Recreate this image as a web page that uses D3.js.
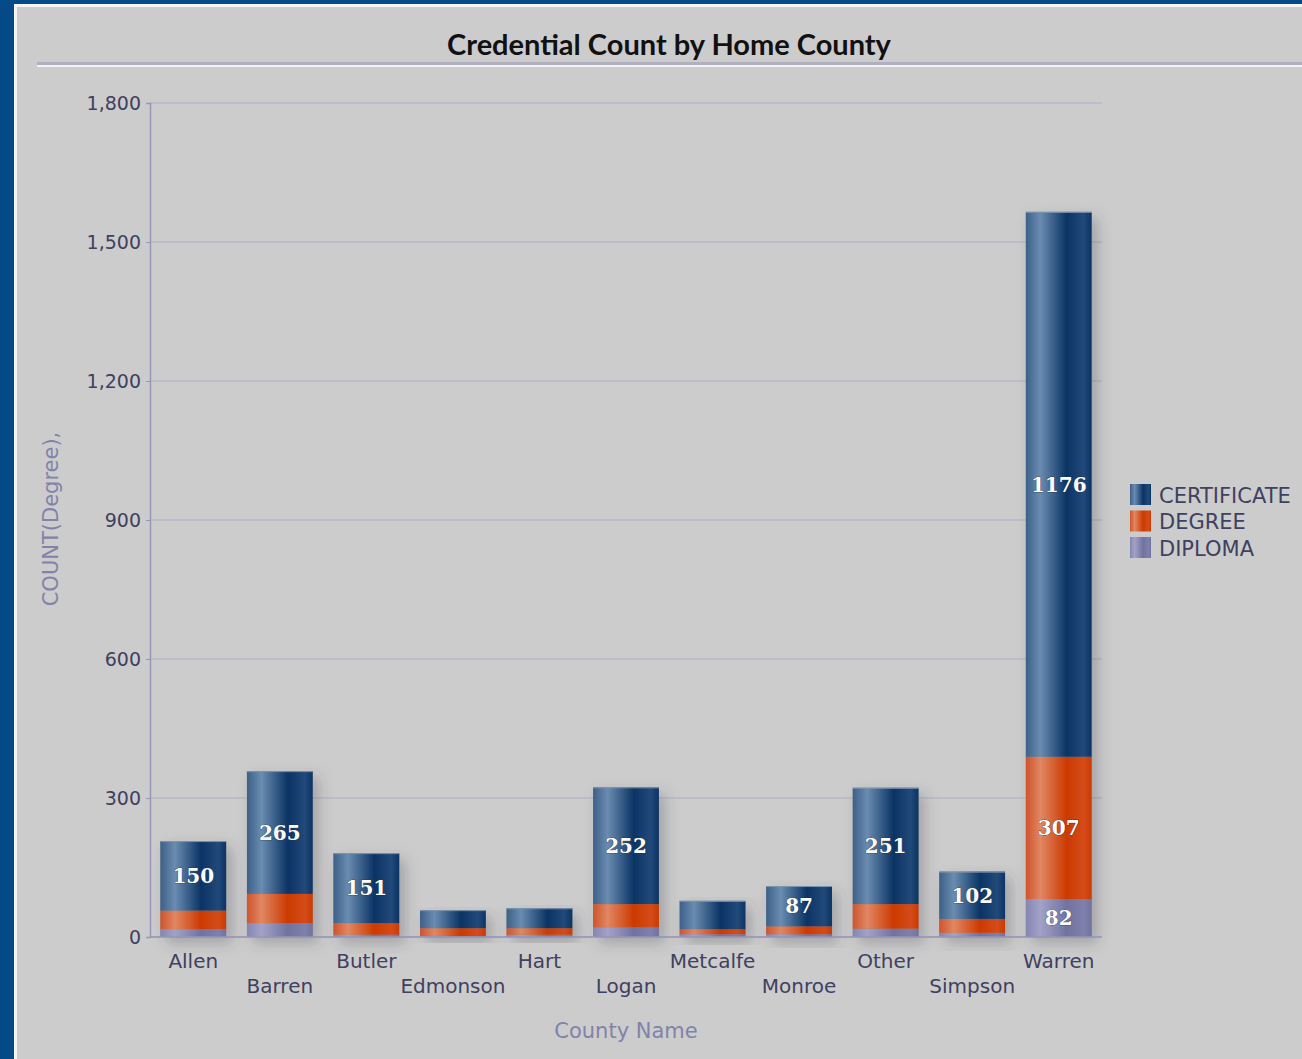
<!DOCTYPE html>
<html>
<head>
<meta charset="utf-8">
<script src="https://cdn.jsdelivr.net/npm/d3@7"></script>
<style>
  body { margin: 0; background: #034a86; }
  svg { display: block; }
</style>
</head>
<body>
<svg id="chart" width="1302" height="1059"></svg>
<script>
var counties = ["Allen", "Barren", "Butler", "Edmonson", "Hart", "Logan", "Metcalfe", "Monroe", "Other", "Simpson", "Warren"];
var certificate = [150, 265, 151, 39, 43, 252, 61, 87, 251, 102, 1176];
var degree = [40, 63, 25, 17, 14, 50, 11, 17, 53, 30, 307];
var diploma = [17, 30, 5, 2, 5, 21, 6, 6, 18, 9, 82];
var seriesNames = ["CERTIFICATE", "DEGREE", "DIPLOMA"];
var yTicks = [0, 300, 600, 900, 1200, 1500, 1800];

var svg = d3.select("#chart");
var W = 1302, H = 1059;
var margin = { left: 150, right: 200, top: 103, bottom: 122 };
var sans = "'DejaVu Sans', Verdana, sans-serif";

var colors = {
    "CERTIFICATE": ["#3d6089", "#6a8cb0", "#0b3465", "#21497a"],
    "DEGREE": ["#d0532c", "#e08763", "#cc3a00", "#d44c1a"],
    "DIPLOMA": ["#8585b2", "#a2a2c8", "#7272a2", "#8080ac"]
};

var defs = svg.append("defs");
seriesNames.forEach(function (name) {
    var c = colors[name];
    var grad = defs.append("linearGradient")
        .attr("id", "grad-" + name)
        .attr("x1", "0%").attr("x2", "100%").attr("y1", "0%").attr("y2", "0%");
    grad.append("stop").attr("offset", "0%").attr("stop-color", c[0]);
    grad.append("stop").attr("offset", "22%").attr("stop-color", c[1]);
    grad.append("stop").attr("offset", "62%").attr("stop-color", c[2]);
    grad.append("stop").attr("offset", "88%").attr("stop-color", c[3]);
    grad.append("stop").attr("offset", "100%").attr("stop-color", c[2]);
});
var shadow = defs.append("filter").attr("id", "shadow")
    .attr("x", "-40%").attr("y", "-10%").attr("width", "180%").attr("height", "130%");
shadow.append("feDropShadow")
    .attr("dx", 6).attr("dy", 6).attr("stdDeviation", 7)
    .attr("flood-color", "#404050").attr("flood-opacity", 0.3);

// panel
svg.append("rect").attr("x", 14).attr("y", 4).attr("width", W - 14).attr("height", H - 4).attr("fill", "#f4f4f4");
svg.append("rect").attr("x", 17).attr("y", 7).attr("width", W - 17).attr("height", H - 7).attr("fill", "#cccccc");

// title
svg.append("text")
    .attr("x", 669).attr("y", 55)
    .attr("text-anchor", "middle")
    .style("font-family", "Lato, sans-serif")
    .style("font-weight", "bold")
    .style("font-size", "29px")
    .style("fill", "#111")
    .text("Credential Count by Home County");
svg.append("rect").attr("x", 37).attr("y", 62).attr("width", W - 37).attr("height", 3).attr("fill", "#b0b0c0");
svg.append("rect").attr("x", 37).attr("y", 65).attr("width", W - 37).attr("height", 2).attr("fill", "#f2f2f2");

var x = d3.scaleBand()
    .domain(counties)
    .range([margin.left, W - margin.right])
    .paddingInner(0.24)
    .paddingOuter(0.12);

var y = d3.scaleLinear()
    .domain([0, 1800])
    .range([H - margin.bottom, margin.top]);

// grid
svg.append("g")
    .selectAll("line")
    .data(yTicks)
    .enter()
    .append("line")
    .attr("x1", margin.left).attr("x2", W - margin.right)
    .attr("y1", (d) => y(d)).attr("y2", (d) => y(d))
    .style("stroke", "#b9b9c6")
    .style("stroke-width", 1.5);

// y axis
var yAxis = svg.append("g")
    .attr("transform", "translate(" + margin.left + ",0)")
    .call(d3.axisLeft(y).tickValues(yTicks).tickFormat(d3.format(",")).tickSize(4).tickPadding(5));
yAxis.select(".domain").style("stroke", "#9696b8").style("stroke-width", 1.5);
yAxis.selectAll(".tick line").style("stroke", "#9696b8");
yAxis.selectAll("text")
    .style("font-family", sans)
    .style("font-size", "19px")
    .style("fill", "#404060");

// stacked bars
var rows = counties.map(function (c, i) {
    return { county: c, CERTIFICATE: certificate[i], DEGREE: degree[i], DIPLOMA: diploma[i] };
});
var stack = d3.stack().keys(["DIPLOMA", "DEGREE", "CERTIFICATE"]);
var layers = stack(rows);

// shadow layer: total bar
svg.append("g")
    .selectAll("rect")
    .data(rows)
    .enter()
    .append("rect")
    .attr("x", (d) => x(d.county))
    .attr("width", x.bandwidth())
    .attr("y", (d) => y(d.CERTIFICATE + d.DEGREE + d.DIPLOMA))
    .attr("height", (d) => y(0) - y(d.CERTIFICATE + d.DEGREE + d.DIPLOMA))
    .style("fill", "#888")
    .attr("filter", "url(#shadow)");

var layerG = svg.append("g")
    .selectAll("g")
    .data(layers)
    .enter()
    .append("g")
    .style("fill", (d) => "url(#grad-" + d.key + ")");

layerG.selectAll("rect")
    .data((d) => d)
    .enter()
    .append("rect")
    .attr("x", (d) => x(d.data.county))
    .attr("width", x.bandwidth())
    .attr("y", (d) => y(d[1]))
    .attr("height", (d) => y(d[0]) - y(d[1]));

// top edge highlight
svg.append("g")
    .selectAll("line")
    .data(rows)
    .enter()
    .append("line")
    .attr("x1", (d) => x(d.county)).attr("x2", (d) => x(d.county) + x.bandwidth())
    .attr("y1", (d) => y(d.CERTIFICATE + d.DEGREE + d.DIPLOMA) + 0.5)
    .attr("y2", (d) => y(d.CERTIFICATE + d.DEGREE + d.DIPLOMA) + 0.5)
    .style("stroke", "#7f94ad").style("stroke-width", 1);

// value labels
var labels = [];
layers.forEach(function (layer) {
    layer.forEach(function (d) {
        var v = d[1] - d[0];
        if (v >= 80) labels.push({ county: d.data.county, mid: (d[0] + d[1]) / 2, value: v });
    });
});
svg.append("g")
    .selectAll("text")
    .data(labels)
    .enter()
    .append("text")
    .attr("x", (d) => x(d.county) + x.bandwidth() / 2)
    .attr("y", (d) => y(d.mid))
    .attr("dy", "0.36em")
    .attr("text-anchor", "middle")
    .style("font-family", "'DejaVu Serif', serif")
    .style("font-weight", "bold")
    .style("font-size", "20px")
    .style("fill", "#fff")
    .style("stroke", "#1a2a40")
    .style("stroke-width", 0.6)
    .style("paint-order", "stroke")
    .text((d) => d.value);

// x axis
svg.append("line")
    .attr("x1", margin.left).attr("x2", W - margin.right)
    .attr("y1", y(0)).attr("y2", y(0))
    .style("stroke", "#9696b8").style("stroke-width", 1.5);
svg.append("g")
    .selectAll("text")
    .data(counties)
    .enter()
    .append("text")
    .attr("x", (d) => x(d) + x.bandwidth() / 2)
    .attr("y", (d, i) => i % 2 == 0 ? 968 : 993)
    .attr("text-anchor", "middle")
    .style("font-family", sans)
    .style("font-size", "20px")
    .style("fill", "#404060")
    .text((d) => d);

// axis titles
svg.append("text")
    .attr("x", 626).attr("y", 1038)
    .attr("text-anchor", "middle")
    .style("font-family", sans)
    .style("font-size", "21px")
    .style("fill", "#8282aa")
    .text("County Name");
svg.append("text")
    .attr("transform", "translate(58,519) rotate(-90)")
    .attr("text-anchor", "middle")
    .style("font-family", sans)
    .style("font-size", "21px")
    .style("fill", "#8282aa")
    .text("COUNT(Degree),");

// legend
var legend = svg.append("g")
    .selectAll("g")
    .data(seriesNames)
    .enter()
    .append("g")
    .attr("transform", (d, i) => "translate(1130," + (484 + i * 26.5) + ")");
legend.append("rect")
    .attr("width", 21).attr("height", 21)
    .style("fill", (d) => "url(#grad-" + d + ")");
legend.append("text")
    .attr("x", 29).attr("y", 11)
    .attr("dy", "0.36em")
    .style("font-family", sans)
    .style("font-size", "21px")
    .style("fill", "#404060")
    .text((d) => d);
</script>
</body>
</html>
